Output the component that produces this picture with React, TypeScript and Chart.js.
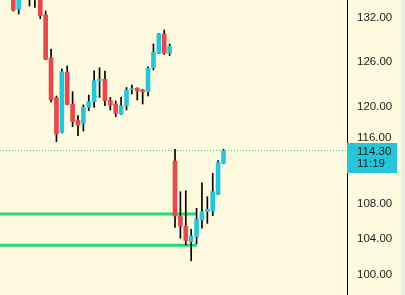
import { useEffect, useRef } from 'react';
import { Chart, registerables } from 'chart.js';
Chart.register(...registerables);

const OPEN = [135.8, 133.15, 135.3, 136.2, 135.1, 134.7, 132.33, 126.36, 121.02, 116.58, 124.39, 120.16, 118.05, 117.72, 119.77, 120.5, 123.26, 123.45, 120.63, 120.2, 118.91, 119.97, 122.08, 122.25, 122.03, 121.81, 125.0, 126.97, 129.64, 126.97, 113.02, 106.5, 105.36, 103.58, 104.15, 106.04, 107.0, 107.08, 109.03, 112.74];
const HIGH = [136.2, 135.8, 136.9, 136.6, 135.6, 135.0, 132.9, 127.56, 121.24, 124.83, 125.24, 121.81, 118.69, 120.07, 121.37, 124.6, 125.0, 124.56, 121.07, 120.59, 121.07, 122.36, 122.69, 122.33, 122.12, 125.14, 128.25, 129.7, 130.2, 128.25, 114.46, 109.33, 109.45, 104.98, 107.39, 110.4, 108.74, 111.53, 113.06, 114.46];
const LOW = [132.9, 132.47, 134.9, 133.62, 133.43, 131.8, 126.1, 120.46, 115.4, 116.5, 120.1, 117.29, 116.15, 116.74, 119.33, 119.77, 121.07, 119.98, 119.42, 118.56, 118.85, 119.42, 121.5, 120.72, 120.2, 121.24, 124.7, 126.9, 126.83, 126.64, 105.21, 103.97, 103.22, 101.48, 103.33, 105.1, 105.66, 106.54, 109.0, 112.7];
const CLOSE = [133.04, 135.3, 136.4, 135.1, 134.8, 132.23, 126.15, 120.72, 116.36, 124.47, 120.16, 117.92, 117.5, 119.77, 120.5, 123.26, 123.45, 120.63, 120.07, 119.0, 119.98, 122.03, 122.16, 121.9, 121.81, 124.92, 127.1, 129.64, 126.97, 127.97, 106.5, 105.36, 103.7, 104.22, 106.12, 107.0, 107.27, 109.33, 112.86, 114.3];

const Y_TICKS = [100, 104, 108, 116, 120, 126, 132];
const LEVELS = [106.73, 103.18];
const LEVEL_END = 34;
const LAST_PRICE = 114.3;
const LAST_TIME = '11:19';

const X_MIN = -2.47;
const X_MAX = 61.91;
const Y_MIN = 97.79;
const Y_MAX = 134.49;

const BG = '#FEFAE0';
const RED = '#E5484D';
const CYAN = '#26C6DA';
const GREEN = '#28D775';
const FONT = '"Liberation Sans", Arial, sans-serif';

const decorPlugin = {
  id: 'decor',
  beforeDraw(chart: any) {
    const c = chart.ctx;
    c.save();
    c.fillStyle = BG;
    c.fillRect(0, 0, chart.width, chart.height);
    c.restore();
  },
  afterDraw(chart: any) {
    const c = chart.ctx;
    const y = chart.scales.y.getPixelForValue(LAST_PRICE);
    const left = chart.chartArea.right;
    c.save();
    c.fillStyle = CYAN;
    c.fillRect(left, Math.round(y - 8), 50, 30);
    c.fillStyle = '#1c1c1c';
    c.font = '11.5px ' + FONT;
    c.textBaseline = 'middle';
    c.textAlign = 'left';
    c.fillText(LAST_PRICE.toFixed(2), left + 10, y + 1.3);
    c.fillText(LAST_TIME, left + 10, y + 13.6);
    c.fillStyle = '#ECECEC';
    c.fillRect(401, 0, 4, chart.height);
    c.restore();
  },
};

export default function App() {
  const ref = useRef<HTMLCanvasElement>(null);
  useEffect(() => {
    document.body.style.margin = '0';
    const idx = OPEN.map((_, i) => i);
    const bodyColors = idx.map((i) => (CLOSE[i] >= OPEN[i] ? CYAN : RED));
    const chart = new Chart(ref.current as HTMLCanvasElement, {
      type: 'bar',
      data: {
        datasets: [
          {
            type: 'bar',
            data: idx.map((i) => ({ x: i, y: [OPEN[i], CLOSE[i]] })) as any,
            backgroundColor: bodyColors,
            barThickness: 4,
            grouped: false,
            minBarLength: 1,
            borderWidth: 0,
            order: 0,
          } as any,
          {
            type: 'bar',
            data: idx.map((i) => ({ x: i, y: [LOW[i], HIGH[i]] })) as any,
            backgroundColor: '#000000',
            barThickness: 1,
            grouped: false,
            borderWidth: 0,
            order: 1,
          } as any,
          ...LEVELS.map((v) => ({
            type: 'line',
            data: [
              { x: X_MIN, y: v },
              { x: LEVEL_END, y: v },
            ],
            borderColor: GREEN,
            borderWidth: 3,
            pointRadius: 0,
            order: 2,
          })) as any,
          {
            type: 'line',
            data: [
              { x: X_MIN, y: LAST_PRICE },
              { x: X_MAX, y: LAST_PRICE },
            ],
            borderColor: '#4DB6A5',
            borderWidth: 1,
            borderDash: [1, 2],
            pointRadius: 0,
            order: 3,
          } as any,
        ],
      },
      options: {
        animation: false,
        responsive: false,
        maintainAspectRatio: false,
        events: [],
        layout: { padding: 0, autoPadding: false } as any,
        plugins: { legend: { display: false }, tooltip: { enabled: false } },
        scales: {
          x: {
            type: 'linear',
            min: X_MIN,
            max: X_MAX,
            display: false,
            offset: false,
            grid: { offset: false },
          },
          y: {
            type: 'logarithmic',
            position: 'right',
            min: Y_MIN,
            max: Y_MAX,
            bounds: 'data',
            afterBuildTicks: (s: any) => {
              s.ticks = Y_TICKS.map((v) => ({ value: v }));
            },
            afterFit: (s: any) => {
              s.width = 58;
              s.paddingTop = 0;
              s.paddingBottom = 0;
            },
            grid: { display: false, drawTicks: false },
            border: { display: true, color: '#000000', width: 1 },
            ticks: {
              autoSkip: false,
              padding: 10,
              labelOffset: 1,
              color: '#1c1c1c',
              font: { family: FONT, size: 11.5 },
              callback: (v: any) => Number(v).toFixed(2),
            },
          } as any,
        },
      },
      plugins: [decorPlugin],
    });
    return () => chart.destroy();
  }, []);
  return <canvas ref={ref} width={405} height={295} style={{ display: 'block' }} />;
}
